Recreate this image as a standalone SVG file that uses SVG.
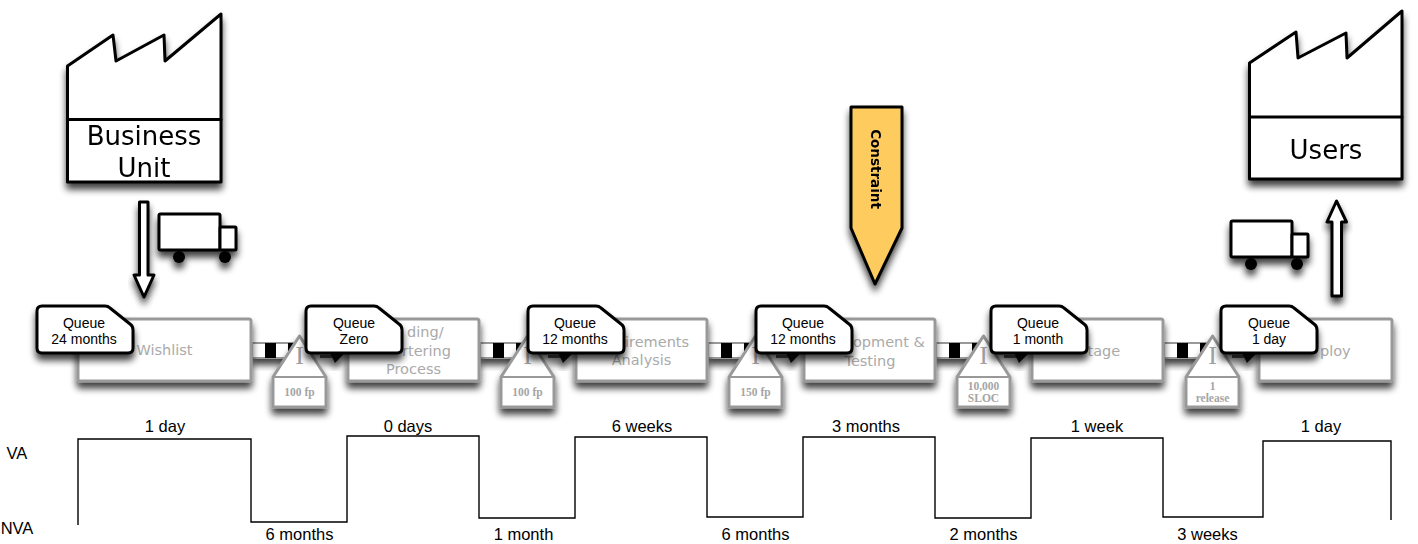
<svg xmlns="http://www.w3.org/2000/svg" xmlns:xlink="http://www.w3.org/1999/xlink" width="1418" height="544" viewBox="0 0 1418 544">
<style>
text{font-family:"Liberation Sans",Arial,sans-serif;text-anchor:middle;fill:#000}
.bold{fill:#fff;stroke:#000;stroke-width:3;stroke-linejoin:round;stroke-linecap:round}
.big{font-family:"DejaVu Sans",sans-serif;font-size:26px}
.proc{fill:#fff;stroke:#999;stroke-width:3;stroke-linejoin:round}
.pt{font-family:"DejaVu Sans",sans-serif;font-size:14.500px;fill:#aaa}
.ps{text-anchor:start}
.q{font-size:14px}
.t{font-size:16.500px}
.inv{fill:#fff;stroke:#999;stroke-width:3;stroke-linejoin:round}
.il{font-family:"Liberation Serif",serif;font-size:11.500px;font-weight:bold;fill:#a5a5a5}
.ii{font-family:"Liberation Serif",serif;font-size:26px;fill:#a0a0a0}
.line{fill:none;stroke:#000;stroke-width:1.400}
</style>
<defs>
<filter id="sh" x="-30%" y="-30%" width="160%" height="170%"><feGaussianBlur in="SourceAlpha" stdDeviation="3.500"/><feOffset dy="6"/><feComponentTransfer><feFuncA type="linear" slope="0.75"/></feComponentTransfer><feMerge><feMergeNode/><feMergeNode in="SourceGraphic"/></feMerge></filter>
<g id="truck">
<rect class="bold" x="0" y="0" width="61" height="36" rx="1.500"/>
<rect class="bold" x="61" y="13" width="16" height="23" rx="1"/>
<circle cx="20" cy="43" r="6" fill="#000"/><circle cx="66" cy="43" r="6" fill="#000"/>
</g>
<path id="card" class="bold" d="M0 5Q0 0 5 0H68Q71 0 73 2L93 18Q96 20 96 24V42Q96 47 91 47H5Q0 47 0 42Z"/>
<g id="push">
<rect x="0" y="0" width="50" height="15" fill="#fff" stroke="#999" stroke-width="2"/>
<rect x="13" y="0" width="11" height="15" fill="#000"/>
<rect x="36" y="0" width="14" height="15" fill="#000"/>
<rect x="68" y="12" width="18" height="3" fill="#555"/>
<path d="M78 10H93L83 20Z" fill="#111"/>
</g>
<g id="tri"><path class="inv" d="M0 41L26.500 0L53 41V71H0Z"/><path d="M0 41H53" stroke="#999" stroke-width="2"/></g>
</defs>

<g id="connectors">
<g filter="url(#sh)"><path class="bold" d="M139.500 202H148V275H154L144 297L134 275H139.500Z"/></g>
<g filter="url(#sh)"><path class="bold" d="M1332 296H1341.500V222H1346.500L1336.500 201L1327 222H1332Z"/></g>
<g filter="url(#sh)"><use xlink:href="#push" x="252" y="343"/></g>
<g filter="url(#sh)"><use xlink:href="#push" x="480" y="343"/></g>
<g filter="url(#sh)"><use xlink:href="#push" x="708" y="343"/></g>
<g filter="url(#sh)"><use xlink:href="#push" x="936" y="343"/></g>
<g filter="url(#sh)"><use xlink:href="#push" x="1164" y="343"/></g>
<polyline id="timeline" class="line" points="78,525 78,439 251,439 251,522 347,522 347,436 479,436 479,518 575,518 575,437 707,437 707,517 803,517 803,437 935,437 935,518 1031,518 1031,438 1163,438 1163,517 1263,517 1263,441 1391,441 1391,520"/>
</g>

<g id="business-unit" filter="url(#sh)">
<path class="bold" d="M67.500 66L113 35L116 61L164 35L165 61L221 14V182H67.500Z"/>
<path class="bold" d="M67.500 119.500H221" fill="none"/>
<text class="big" x="144" y="145">Business</text>
<text class="big" x="144" y="177">Unit</text>
</g>
<g id="users" filter="url(#sh)">
<path class="bold" d="M1249.500 63L1296 32L1298 58L1346 33L1347 58L1402 11V179H1249.500Z"/>
<path class="bold" d="M1249.500 117H1402" fill="none"/>
<text class="big" x="1326" y="159">Users</text>
</g>
<g id="truck-1" filter="url(#sh)"><use xlink:href="#truck" x="159" y="214"/></g>
<g id="truck-2" filter="url(#sh)"><use xlink:href="#truck" x="1231" y="221"/></g>

<g id="constraint" filter="url(#sh)">
<path d="M851 107H902V228L875 284L851 228Z" fill="#fecb5f" stroke="#000" stroke-width="3" stroke-linejoin="round"/>
<text transform="translate(870.500,169) rotate(90)" style="font-family:'DejaVu Sans',sans-serif;font-size:13.500px;font-weight:bold">Constraint</text>
</g>

<g id="p1"><rect class="proc" x="78" y="319" width="173" height="62" rx="2" filter="url(#sh)"/><text class="pt" x="164.500" y="355">Wishlist</text></g>
<g id="p2"><rect class="proc" x="348" y="319" width="131" height="62" rx="2" filter="url(#sh)"/><text class="pt ps" x="407" y="337">ding/</text><text class="pt ps" x="402" y="356">rtering</text><text class="pt" x="413.500" y="374">Process</text></g>
<g id="p3"><rect class="proc" x="576" y="319" width="131" height="62" rx="2" filter="url(#sh)"/><text class="pt ps" x="625" y="347">irements</text><text class="pt" x="641.500" y="365">Analysis</text></g>
<g id="p4"><rect class="proc" x="804" y="319" width="131" height="62" rx="2" filter="url(#sh)"/><text class="pt ps" x="853" y="347">opment &amp;</text><text class="pt" x="870" y="366">Testing</text></g>
<g id="p5"><rect class="proc" x="1032" y="319" width="131" height="62" rx="2" filter="url(#sh)"/><text class="pt ps" x="1087.500" y="356">tage</text></g>
<g id="p6"><rect class="proc" x="1259" y="319" width="133" height="62" rx="2" filter="url(#sh)"/><text class="pt ps" x="1320" y="356">ploy</text></g>

<g id="i1"><use xlink:href="#tri" x="273" y="336" filter="url(#sh)"/><text class="ii" x="299.500" y="364">I</text><text class="il" x="299.500" y="396">100 fp</text></g>
<g id="i2"><use xlink:href="#tri" x="501" y="336" filter="url(#sh)"/><text class="ii" x="527.500" y="364">I</text><text class="il" x="527.500" y="396">100 fp</text></g>
<g id="i3"><use xlink:href="#tri" x="729" y="336" filter="url(#sh)"/><text class="ii" x="755.500" y="364">I</text><text class="il" x="755.500" y="396">150 fp</text></g>
<g id="i4"><use xlink:href="#tri" x="957" y="336" filter="url(#sh)"/><text class="ii" x="983.500" y="364">I</text><text class="il" x="983.500" y="390">10,000</text><text class="il" x="983.500" y="402">SLOC</text></g>
<g id="i5"><use xlink:href="#tri" x="1186" y="336" filter="url(#sh)"/><text class="ii" x="1212.500" y="364">I</text><text class="il" x="1212.500" y="390">1</text><text class="il" x="1212.500" y="402">release</text></g>

<g id="q1"><use xlink:href="#card" x="37" y="306" filter="url(#sh)"/><text class="q" x="84" y="328">Queue</text><text class="q" x="84" y="344">24 months</text></g>
<g id="q2"><use xlink:href="#card" x="306" y="306" filter="url(#sh)"/><text class="q" x="354" y="328">Queue</text><text class="q" x="354" y="344">Zero</text></g>
<g id="q3"><use xlink:href="#card" x="528" y="306" filter="url(#sh)"/><text class="q" x="575" y="328">Queue</text><text class="q" x="575" y="344">12 months</text></g>
<g id="q4"><use xlink:href="#card" x="756" y="306" filter="url(#sh)"/><text class="q" x="803" y="328">Queue</text><text class="q" x="803" y="344">12 months</text></g>
<g id="q5"><use xlink:href="#card" x="991" y="306" filter="url(#sh)"/><text class="q" x="1038" y="328">Queue</text><text class="q" x="1038" y="344">1 month</text></g>
<g id="q6"><use xlink:href="#card" x="1221" y="306" filter="url(#sh)"/><text class="q" x="1269" y="328">Queue</text><text class="q" x="1269" y="344">1 day</text></g>

<g id="labels">
<text class="t" x="17" y="459">VA</text><text class="t" x="17" y="534">NVA</text>
<text class="t" x="165" y="432">1 day</text>
<text class="t" x="408" y="432">0 days</text>
<text class="t" x="642" y="432">6 weeks</text>
<text class="t" x="866" y="432">3 months</text>
<text class="t" x="1097" y="432">1 week</text>
<text class="t" x="1321" y="432">1 day</text>
<text class="t" x="299.500" y="540">6 months</text>
<text class="t" x="523.500" y="540">1 month</text>
<text class="t" x="755.500" y="540">6 months</text>
<text class="t" x="983.500" y="540">2 months</text>
<text class="t" x="1207.500" y="540">3 weeks</text>
</g>
</svg>
